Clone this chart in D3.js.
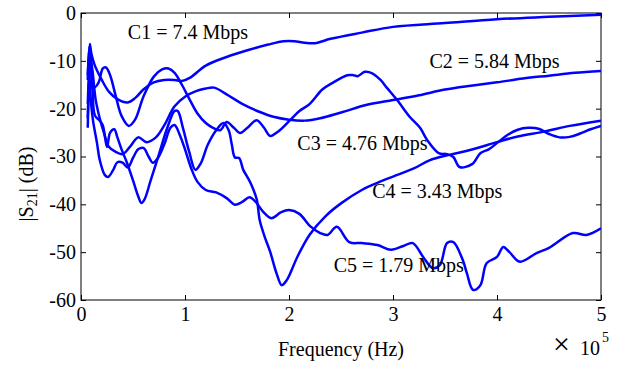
<!DOCTYPE html>
<html lang="en">
<head>
  <meta charset="UTF-8">
  <title>|S21| vs frequency</title>
  <style>
    body { margin: 0; background: #fff; }
    svg { display: block; font-family: "Liberation Serif", "DejaVu Serif", serif; }
    .tick text { font-size: 20px; fill: #000; }
    .lbl { font-size: 20px; fill: #000; font-family: "Liberation Serif", serif; }
  </style>
  <script src="https://d3js.org/d3.v7.min.js"></script>
</head>
<body>
<div id="chart"></div>
<script>
// frequency in units of 1e5 Hz, |S21| in dB
const c1 = [[0.065,-14],[0.085,-6.5],[0.1,-8.5],[0.13,-10.8],[0.2,-14],[0.27,-16.5],[0.35,-18],[0.45,-18.7],
  [0.52,-17.8],[0.6,-16],[0.7,-14.5],[0.8,-14],[0.9,-14],[0.97,-14.2],[1.05,-13.5],[1.2,-11],[1.4,-9.2],
  [1.6,-7.8],[1.8,-6.6],[1.95,-5.9],[2.05,-5.9],[2.15,-6.2],[2.25,-6.3],[2.4,-5.4],[2.7,-4.1],[3.0,-2.9],
  [3.5,-2.1],[4.0,-1.3],[4.5,-0.8],[5.0,-0.35]];

const c2 = [[0.065,-19],[0.09,-9.5],[0.11,-12],[0.14,-18],[0.18,-22],[0.22,-25],[0.27,-28],[0.33,-29],
  [0.4,-29.5],[0.47,-28],[0.55,-26],[0.63,-27],[0.72,-26],[0.8,-23.5],[0.9,-19.5],[1.0,-17.5],[1.1,-16.4],
  [1.2,-15.8],[1.28,-15.6],[1.4,-17],[1.55,-19],[1.72,-20.7],[1.85,-21.7],[2.0,-22.3],[2.15,-22.5],
  [2.3,-22],[2.5,-20.8],[2.75,-19.2],[3.0,-18.2],[3.25,-17.2],[3.5,-16],[3.75,-15.2],[4.0,-14.5],
  [4.25,-13.7],[4.5,-13.1],[4.75,-12.5],[5.0,-12.1]];

const c3 = [[0.065,-24],[0.08,-12],[0.09,-8.5],[0.1,-11],[0.13,-15.5],[0.17,-14.5],[0.21,-11.6],[0.24,-11.4],
  [0.28,-13],[0.33,-17],[0.39,-21.5],[0.46,-23.6],[0.52,-22.3],[0.6,-17.5],[0.7,-13.3],[0.78,-11.8],
  [0.84,-11.6],[0.9,-12.5],[0.97,-15],[1.05,-18.3],[1.12,-21],[1.2,-23],[1.27,-24],[1.34,-24.5],[1.4,-22.8],
  [1.47,-24],[1.53,-25.1],[1.6,-24],[1.69,-22.4],[1.76,-24],[1.82,-25.7],[1.9,-24.7],[2.01,-22.4],
  [2.1,-20.5],[2.2,-19],[2.32,-16],[2.42,-14.6],[2.56,-13],[2.62,-13],[2.66,-13.2],[2.73,-12.3],[2.8,-12.6],
  [2.88,-14],[2.94,-15.6],[3.04,-18.2],[3.16,-21.7],[3.26,-24],[3.33,-26.6],[3.44,-29.3],[3.52,-29.5],
  [3.58,-30.1],[3.64,-32.2],[3.76,-31.6],[3.84,-29.3],[3.92,-28.5],[4.0,-27.2],[4.1,-25.5],[4.2,-24.4],
  [4.3,-24],[4.4,-24.2],[4.5,-25.3],[4.6,-26],[4.7,-25.9],[4.8,-25.2],[4.9,-24.3],[5.0,-23.6]];

const c4 = [[0.065,-13],[0.08,-7],[0.09,-10],[0.11,-16],[0.135,-21.5],[0.18,-22.5],[0.21,-23.5],[0.25,-28],
  [0.28,-25],[0.32,-24.3],[0.35,-26],[0.39,-28.5],[0.44,-31.2],[0.5,-35],[0.55,-38.3],[0.58,-39.7],
  [0.61,-39],[0.67,-35],[0.75,-29.5],[0.83,-24],[0.9,-20.5],[0.93,-20.5],[0.98,-24],[1.04,-29],[1.1,-32.8],
  [1.15,-31.5],[1.22,-27.5],[1.3,-24.5],[1.37,-23],[1.42,-24.5],[1.45,-27.5],[1.48,-30.2],[1.52,-30.3],
  [1.56,-32.8],[1.6,-34.3],[1.64,-36],[1.69,-39],[1.72,-43.5],[1.77,-47],[1.82,-50],[1.88,-54.4],
  [1.93,-56.9],[1.98,-55.8],[2.08,-51],[2.2,-46.3],[2.35,-42.5],[2.5,-39.8],[2.7,-37],[2.85,-35.5],
  [3.0,-34.2],[3.2,-32.5],[3.35,-30.8],[3.55,-29.6],[3.75,-28.6],[4.0,-27],[4.2,-25.8],[4.45,-24.8],
  [4.7,-23.6],[5.0,-22.5]];

const c5 = [[0.065,-22],[0.08,-13],[0.09,-17],[0.115,-22.4],[0.154,-27.2],[0.18,-30.7],[0.23,-33.9],
  [0.26,-34.3],[0.31,-32.8],[0.35,-31.2],[0.4,-31.3],[0.45,-32.3],[0.5,-30.3],[0.55,-28.5],[0.6,-28.2],
  [0.65,-30],[0.69,-31.3],[0.74,-30.3],[0.8,-27.5],[0.86,-24],[0.9,-23.4],[0.95,-25.5],[1.0,-28.5],
  [1.06,-32.5],[1.12,-35.3],[1.2,-37],[1.3,-37.5],[1.4,-38.7],[1.48,-40.1],[1.55,-39.5],[1.62,-38.5],
  [1.68,-39.5],[1.75,-41.5],[1.83,-42.9],[1.92,-41.7],[2.0,-41.2],[2.1,-42],[2.2,-44.5],[2.3,-46],
  [2.37,-46.4],[2.46,-44.7],[2.58,-47.9],[2.7,-48.1],[2.85,-48.5],[2.98,-49.5],[3.1,-48.7],[3.19,-48.1],
  [3.29,-51],[3.38,-53.3],[3.45,-52.7],[3.52,-48.1],[3.58,-47.9],[3.67,-51.6],[3.71,-54.4],[3.77,-57.9],
  [3.84,-56.9],[3.9,-52.3],[4.0,-51],[4.06,-48.9],[4.12,-50],[4.22,-52],[4.38,-50.2],[4.5,-49.1],
  [4.73,-46],[4.86,-46.4],[5.0,-45]];

const series = [c1, c2, c3, c4, c5];
const xTicks = [0, 1, 2, 3, 4, 5];
const yTicks = [0, -10, -20, -30, -40, -50, -60];
const labels = [
  { text: 'C1 = 7.4 Mbps',  f: 0.45, db: -5.5 },
  { text: 'C2 = 5.84 Mbps', f: 3.35, db: -11.5 },
  { text: 'C3 = 4.76 Mbps', f: 2.08, db: -28.6 },
  { text: 'C4 = 3.43 Mbps', f: 2.8,  db: -38.7 },
  { text: 'C5 = 1.79 Mbps', f: 2.43, db: -54.2 }
];

const W = 633, H = 365;
const m = { t: 13, r: 32, b: 65, l: 81 };

const svg = d3.select('#chart').append('svg')
  .attr('width', W).attr('height', H);

const x = d3.scaleLinear().domain([0, 5]).range([m.l, W - m.r]);
const y = d3.scaleLinear().domain([-60, 0]).range([H - m.b, m.t]);

// axes, ticks pointing inward
svg.append('g').attr('transform', `translate(0,${y(-60)})`)
  .call(d3.axisBottom(x).tickValues(xTicks).tickSize(-5).tickPadding(7).tickFormat(d3.format('d')));
svg.append('g').attr('transform', `translate(${x(0)},0)`)
  .call(d3.axisLeft(y).tickValues(yTicks).tickSize(-5).tickPadding(5).tickFormat(d => d));
svg.append('g').attr('transform', `translate(0,${y(0)})`)
  .call(d3.axisTop(x).tickValues(xTicks).tickSize(-5).tickFormat(''));
svg.append('g').attr('transform', `translate(${x(5)},0)`)
  .call(d3.axisRight(y).tickValues(yTicks).tickSize(-5).tickFormat(''));

svg.selectAll('.domain').remove();
svg.selectAll('.tick line').attr('stroke', '#000');
svg.selectAll('.tick text').attr('font-family', '"Liberation Serif", serif');

svg.append('rect')
  .attr('x', x(0)).attr('y', y(0))
  .attr('width', x(5) - x(0)).attr('height', y(-60) - y(0))
  .attr('fill', 'none').attr('stroke', '#000').attr('stroke-width', 1);

const line = d3.line()
  .x(d => x(d[0])).y(d => y(d[1]))
  .curve(d3.curveCatmullRom.alpha(0.5));

svg.append('clipPath').attr('id', 'clip')
  .append('rect').attr('x', x(0)).attr('y', y(0))
  .attr('width', x(5) - x(0)).attr('height', y(-60) - y(0));

svg.append('g').attr('clip-path', 'url(#clip)')
  .selectAll('path').data(series).join('path')
    .attr('d', line)
    .attr('fill', 'none')
    .attr('stroke', '#0000ff')
    .attr('stroke-width', 2.5)
    .attr('stroke-linejoin', 'round');

svg.selectAll('text.clabel').data(labels).join('text')
  .attr('class', 'lbl clabel')
  .attr('x', d => x(d.f)).attr('y', d => y(d.db))
  .text(d => d.text);

// axis titles
svg.append('text').attr('class', 'lbl')
  .attr('x', (x(0) + x(5)) / 2).attr('y', 356)
  .attr('text-anchor', 'middle')
  .text('Frequency (Hz)');

const yl = svg.append('text').attr('class', 'lbl')
  .attr('transform', 'translate(33,184) rotate(-90)')
  .attr('text-anchor', 'middle');
yl.append('tspan').text('|S');
yl.append('tspan').attr('font-size', 14).attr('dy', 4).text('21');
yl.append('tspan').attr('dy', -4).text('| (dB)');

svg.append('text').attr('class', 'lbl').style('font-size', '30px')
  .attr('x', 553).attr('y', 354).text('\u00d7');
svg.append('text').attr('class', 'lbl')
  .attr('x', 600).attr('y', 355).attr('text-anchor', 'end').text('10');
svg.append('text').attr('class', 'lbl').style('font-size', '14px')
  .attr('x', 602).attr('y', 342).text('5');
</script>
</body>
</html>
